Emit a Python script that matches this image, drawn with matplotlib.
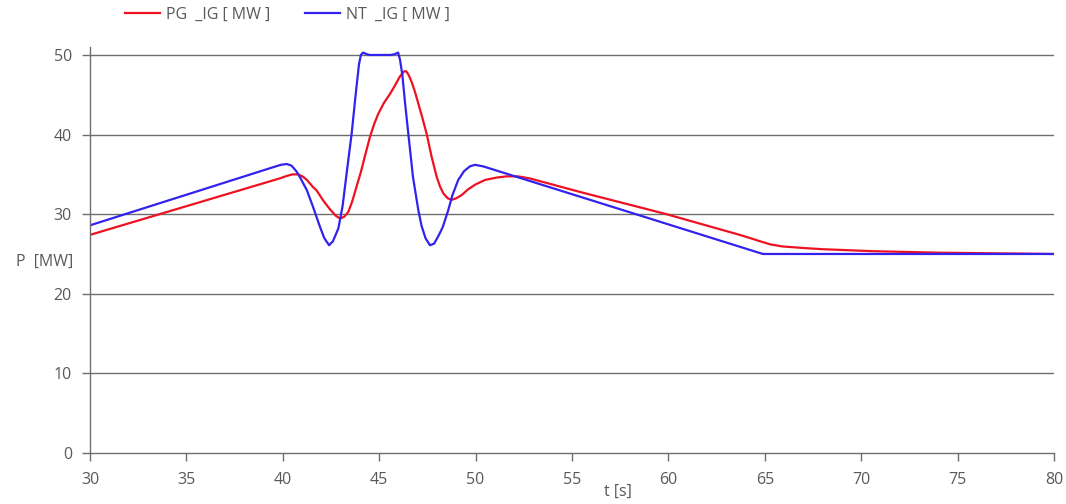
import matplotlib
matplotlib.use("Agg")
import matplotlib.pyplot as plt

# PG_IG trace [MW]
t_pg = [30.0, 39.85, 40.2, 40.5, 40.8, 41.05, 41.25, 41.57, 41.75, 42.1, 42.45,
        42.75, 42.97, 43.2, 43.4, 43.6, 43.83, 44.05, 44.26, 44.52, 44.75,
        44.95, 45.25, 45.56, 45.85, 46.05, 46.2, 46.3, 46.4, 46.5, 46.6, 46.7,
        46.85, 47.03, 47.25, 47.46, 47.72, 47.98, 48.15, 48.33, 48.55, 48.76,
        49.0, 49.28, 49.6, 49.97, 50.49, 51.1, 51.6, 52.2, 52.8, 55.4, 59.9,
        63.7, 64.3, 64.75, 65.3, 65.9, 67.0, 68.0, 70.6, 74.1, 80.0]
p_pg = [27.4, 34.5, 34.8, 35.0, 35.0, 34.7, 34.3, 33.4, 33.0, 31.7, 30.6,
        29.8, 29.45, 29.7, 30.3, 31.6, 33.5, 35.3, 37.3, 39.7, 41.4,
        42.6, 44.0, 45.1, 46.3, 47.2, 47.7, 47.95, 47.95, 47.6, 47.1, 46.5,
        45.4, 43.9, 42.0, 40.1, 37.2, 34.7, 33.5, 32.6, 32.0, 31.8,
        32.0, 32.4, 33.1, 33.7, 34.3, 34.6, 34.75, 34.75, 34.5, 32.8, 30.0,
        27.4, 26.95, 26.6, 26.2, 25.95, 25.75, 25.6, 25.35, 25.16, 25.0]

# NT_IG trace [MW]
t_nt = [30.0, 39.5, 39.9, 40.2, 40.45, 40.7, 40.9, 41.25, 41.57, 41.93, 42.15,
        42.4, 42.6, 42.88, 43.1, 43.33, 43.57, 43.8, 43.95, 44.05, 44.16,
        44.3, 44.5, 45.6, 45.8, 45.98, 46.08, 46.2, 46.34, 46.51, 46.6,
        46.75, 47.03, 47.2, 47.4, 47.63, 47.85, 48.1, 48.3, 48.58, 48.8,
        49.1, 49.4, 49.7, 49.97, 50.4, 64.9, 80.0]
p_nt = [28.6, 35.9, 36.2, 36.3, 36.1, 35.4, 34.6, 33.0, 30.9, 28.4, 27.0,
        26.1, 26.6, 28.2, 31.0, 35.5, 40.1, 45.5, 48.8, 50.0, 50.3,
        50.15, 50.0, 50.0, 50.1, 50.3, 49.4, 47.5, 44.0, 40.1, 38.1,
        34.7, 30.5, 28.5, 27.0, 26.1, 26.3, 27.4, 28.4, 30.5, 32.4,
        34.3, 35.4, 36.0, 36.2, 36.0, 25.0, 25.0]

x_ticks = [30, 35, 40, 45, 50, 55, 60, 65, 70, 75, 80]
y_ticks = [0, 10, 20, 30, 40, 50]

txt = "#595959"
axc = "#6e6e6e"
fs = 11.5
plt.rcParams['font.family'] = ['Open Sans', 'DejaVu Sans']

fig = plt.figure(figsize=(10.66, 5.04), dpi=100)
ax = fig.add_axes([90/1066, 51/504, 964/1066, 406/504])

ax.plot(t_pg, p_pg, color="#ee1122", lw=1.6, label="PG  _IG [ MW ]")
ax.plot(t_nt, p_nt, color="#3322ee", lw=1.6, label="NT  _IG [ MW ]")

ax.set_xlim(30, 80)
ax.set_ylim(0, 51)
ax.set_xticks(x_ticks)
ax.set_yticks(y_ticks)
for y in y_ticks[1:]:
    ax.axhline(y, color=axc, lw=1.0, zorder=0)

for s in ["top", "right"]:
    ax.spines[s].set_visible(False)
for s in ["left", "bottom"]:
    ax.spines[s].set_color(axc)
    ax.spines[s].set_linewidth(1.0)

ax.tick_params(axis="x", direction="out", length=6, width=1, color=axc,
               labelcolor=txt, labelsize=fs, pad=8)
ax.tick_params(axis="y", direction="out", length=6, width=1, color=axc,
               labelcolor=txt, labelsize=fs, pad=7)

ax.set_ylabel("P  [MW]", rotation=0, color=txt, fontsize=fs, ha="center", va="center")
ax.yaxis.set_label_coords(-0.047, 0.47)
ax.set_xlabel("t [s]", color=txt, fontsize=fs, ha="center", va="center")
ax.xaxis.set_label_coords(0.548, -0.096)

leg = ax.legend(loc="center left", bbox_to_anchor=(125/1066, 1 - 15/504),
                bbox_transform=fig.transFigure, ncol=2, frameon=False,
                borderaxespad=0, borderpad=0, handlelength=2.2,
                handletextpad=0.35, columnspacing=2.2, fontsize=fs)
for t in leg.get_texts():
    t.set_color(txt)

fig.savefig("out.png", dpi=100)
